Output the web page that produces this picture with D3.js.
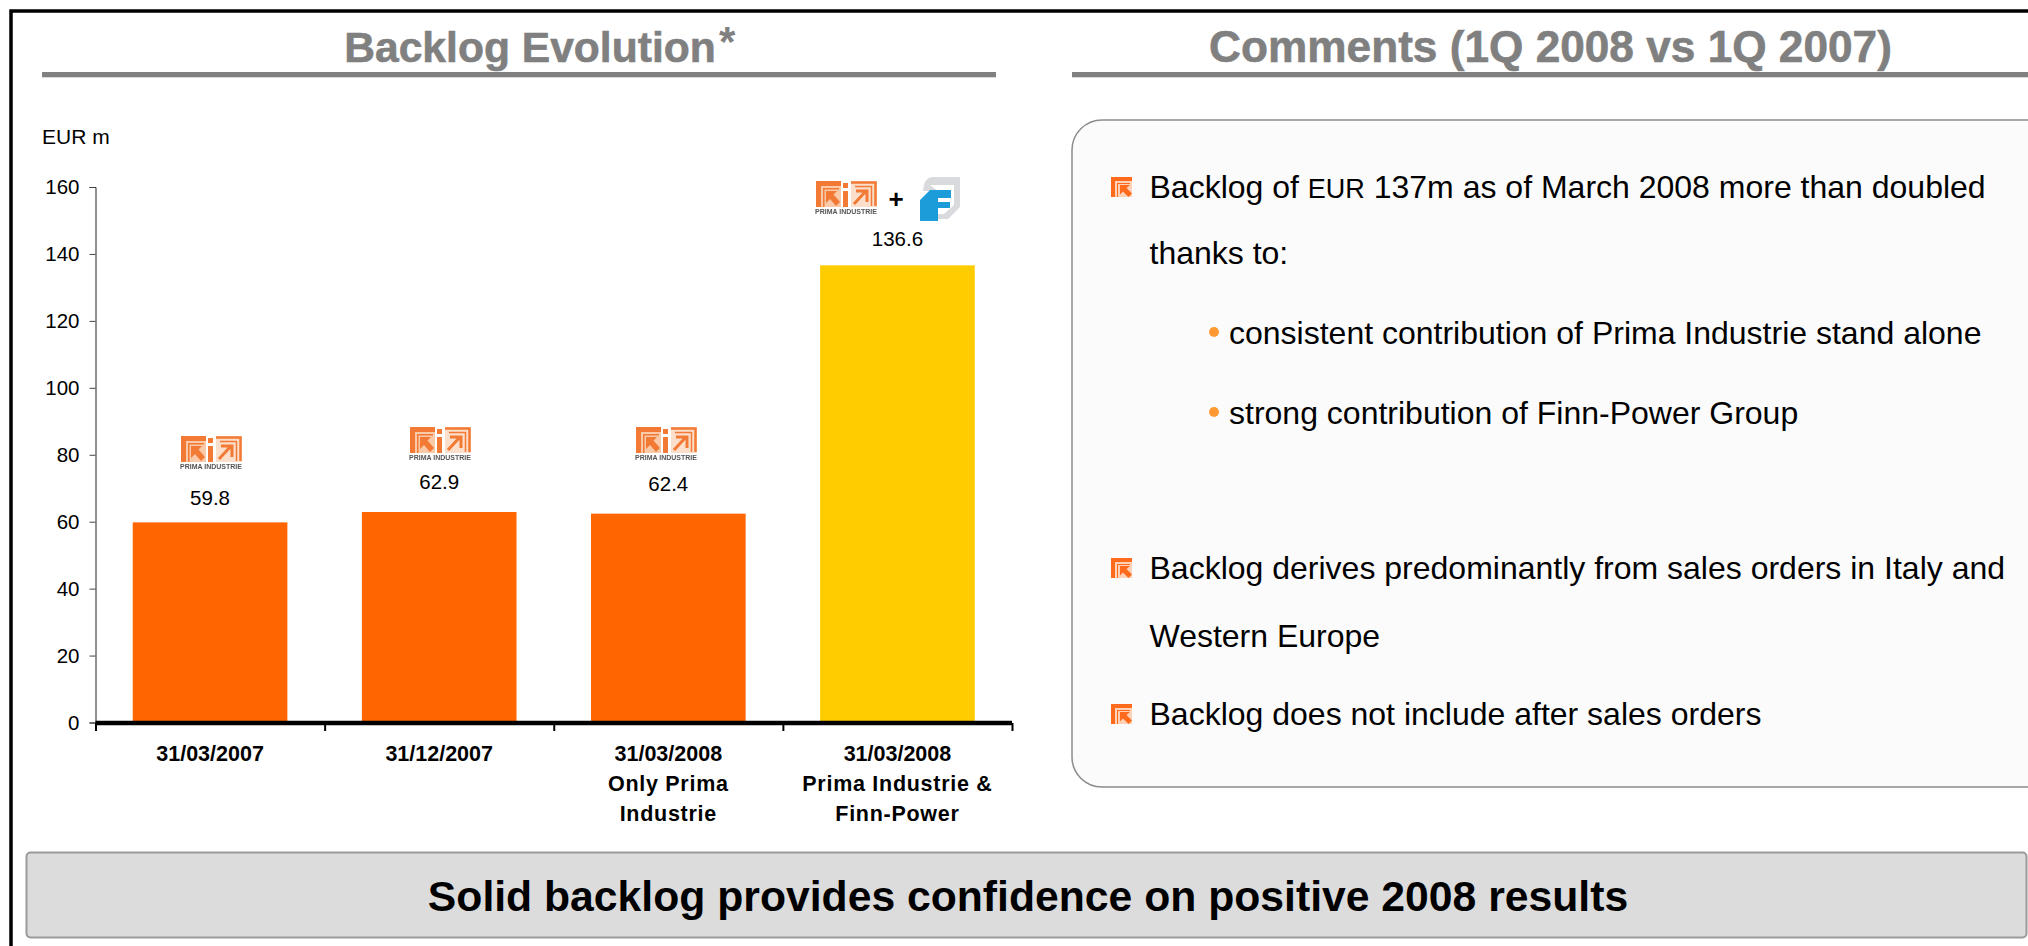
<!DOCTYPE html>
<html><head><meta charset="utf-8">
<script src="https://cdn.jsdelivr.net/npm/d3@7/dist/d3.min.js"></script>
<style>html,body{margin:0;padding:0;background:#fff;overflow:hidden}svg{display:block}text{font-family:"Liberation Sans",Arial,sans-serif}</style>
</head><body><svg id="c" width="2028" height="946"></svg>
<script>
const categories=[["31/03/2007"],["31/12/2007"],["31/03/2008","Only Prima","Industrie"],["31/03/2008","Prima Industrie &","Finn-Power"]];
const values=[59.8,62.9,62.4,136.6];
const valueLabels=["59.8","62.9","62.4","136.6"];
const yTicks=[0,20,40,60,80,100,120,140,160];
const barColors=["#ff6600","#ff6600","#ff6600","#ffcc00"];
const labelGaps=[24.5,30,30,27];
const comments=[
 {kind:"main",parts:[["Backlog of ",0],["EUR",1],[" 137m as of March 2008 more than doubled",0]]},
 {kind:"cont",parts:[["thanks to:",0]]},
 {kind:"sub",parts:[["consistent contribution of Prima Industrie stand alone",0]]},
 {kind:"sub",parts:[["strong contribution of Finn-Power Group",0]]},
 {kind:"main",parts:[["Backlog derives predominantly from sales orders in Italy and",0]]},
 {kind:"cont",parts:[["Western Europe",0]]},
 {kind:"main",parts:[["Backlog does not include after sales orders",0]]}];
const commentBaselines=[198,264,344,424,579,647,725];

const svg=d3.select("#c");
const defs=svg.append("defs");
defs.append("filter").attr("id","soft").attr("x","-10%").attr("y","-10%").attr("width","120%").attr("height","120%")
 .append("feGaussianBlur").attr("stdDeviation",0.6);

// frame
svg.append("rect").attr("x",11).attr("y",11).attr("width",2040).attr("height",960).attr("fill","none").attr("stroke","#000").attr("stroke-width",3.5);

// titles
function title(cx,t,x0,x1,fs){
 svg.append("text").attr("x",cx).attr("y",62).attr("text-anchor","middle").attr("font-size",fs).attr("font-weight","bold").attr("fill","#808080").attr("stroke","#808080").attr("stroke-width",0.6).text(t);
 svg.append("rect").attr("x",x0).attr("y",72).attr("width",x1-x0).attr("height",5).attr("fill","#808080");
 svg.append("rect").attr("x",x0).attr("y",77).attr("width",x1-x0).attr("height",1).attr("fill","#d8d8d8");
}
title(530,"Backlog Evolution",42,996,42.6);
title(1550.5,"Comments (1Q 2008 vs 1Q 2007)",1072,2028,44.2);
svg.append("text").attr("x",719).attr("y",56).attr("font-size",42).attr("font-weight","bold").attr("fill","#808080").text("*");

svg.append("text").attr("x",42).attr("y",144).attr("font-size",21).attr("fill","#000").text("EUR m");

// scales
const y=d3.scaleLinear().domain([0,160]).range([722.5,187]);
const x=d3.scaleBand().domain(d3.range(values.length)).range([95.5,1012]).paddingInner(0.325).paddingOuter(0.1625);
const edge=d3.scaleLinear().domain([0,values.length]).range([95.5,1012]);

// bars
svg.append("g").selectAll("rect").data(values).join("rect")
 .attr("x",(d,i)=>x(i)).attr("width",x.bandwidth()).attr("y",d=>y(d)).attr("height",d=>y(0)-y(d)).attr("fill",(d,i)=>barColors[i]);

// y axis
const ya=svg.append("g").attr("transform","translate(95.5,0)").call(d3.axisLeft(y).tickValues(yTicks).tickSize(6).tickPadding(10).tickFormat(d3.format("d")));
ya.selectAll("text").attr("font-size",20.5).attr("fill","#000").style("font-family",'"Liberation Sans"');
ya.select(".domain").attr("stroke","#222").attr("stroke-width",1);
ya.selectAll(".tick line").attr("stroke","#444");

// x axis
const xa=svg.append("g").attr("transform","translate(0,723)").call(d3.axisBottom(edge).ticks(values.length).tickSize(8).tickFormat(""));
xa.select(".domain").attr("stroke","#000").attr("stroke-width",4.5).attr("d","M95.5,0H1012");
xa.selectAll(".tick line").attr("stroke","#000").attr("stroke-width",2);

// x labels
const xl=svg.append("g").selectAll("text").data(categories).join("text")
 .attr("text-anchor","middle").attr("font-size",21.5).attr("font-weight","bold").attr("fill","#000");
xl.selectAll("tspan").data((d,i)=>d.map(s=>({s,i}))).join("tspan")
 .attr("x",d=>x(d.i)+x.bandwidth()/2).attr("y",(d,j)=>761+j*30)
 .attr("letter-spacing",(d,j)=>j?0.72:0).text(d=>d.s);

// value labels
svg.append("g").selectAll("text").data(values).join("text")
 .attr("x",(d,i)=>x(i)+x.bandwidth()/2).attr("y",(d,i)=>y(d)-labelGaps[i]+7.5)
 .attr("text-anchor","middle").attr("font-size",20.5).attr("fill","#000").text((d,i)=>valueLabels[i]);

// logos
function prima(px,py){
 const g=svg.append("g").attr("transform",`translate(${px},${py})`).attr("filter","url(#soft)");
 const o="#f27a35", p="#f9c9a8";
 g.append("rect").attr("x",1).attr("width",25).attr("height",26).attr("fill",p);
 g.append("path").attr("d","M1,0H26V5H6V26H1Z").attr("fill",o);
 g.append("path").attr("d","M8,7H24V8.5H9.5V26H8Z").attr("fill",o);
 g.append("path").attr("d","M11,10H22L18.5,13.5L25,21L21,25L15,18L11,22Z").attr("fill",o);
 g.append("rect").attr("x",28).attr("y",2).attr("width",5).attr("height",5).attr("fill",o);
 g.append("rect").attr("x",28).attr("y",10).attr("width",5).attr("height",16).attr("fill",o);
 g.append("rect").attr("x",36).attr("width",26).attr("height",26).attr("fill",p).attr("opacity",.6);
 g.append("path").attr("d","M36,1.5H60.5V25").attr("fill","none").attr("stroke",o).attr("stroke-width",2.5);
 g.append("path").attr("d","M40,5.5H56.5V25").attr("fill","none").attr("stroke",o).attr("stroke-width",1.5);
 g.append("path").attr("d","M39,23L51,10M41,10H52V21").attr("fill","none").attr("stroke",o).attr("stroke-width",3);
 g.append("text").attr("x",0).attr("y",33).attr("font-size",6.4).attr("font-weight","bold").attr("fill","#555").attr("textLength",62).attr("lengthAdjust","spacingAndGlyphs").text("PRIMA INDUSTRIE");
}
[[180,436],[409,427],[635,427],[815,181]].forEach(p=>prima(p[0],p[1]));
svg.append("text").attr("x",896).attr("y",208).attr("text-anchor","middle").attr("font-size",26).attr("font-weight","bold").attr("fill","#000").text("+");
const f=svg.append("g").attr("transform","translate(919,177)").attr("filter","url(#soft)");
f.append("path").attr("d","M4,14Q5,0 14,0H41V30L29,42H12V14Z").attr("fill","#d8dadd");
f.append("path").attr("d","M11,8H35V28L25,37H19V14Z").attr("fill","#fff");
f.append("path").attr("d","M1,23L11,13H32V21H19V25H31V31H19V44H1Z").attr("fill","#1b9cd8");

// comment box
svg.append("rect").attr("x",1072).attr("y",120).attr("width",990).attr("height",667).attr("rx",30).attr("ry",30).attr("fill","#fbfbfb").attr("stroke","#8c8c8c").attr("stroke-width",1.5);

// comment lines
const tl=svg.append("g").selectAll("text").data(comments).join("text")
 .attr("x",d=>d.kind==="sub"?1229:1149.5).attr("y",(d,i)=>commentBaselines[i]).attr("font-size",32).attr("fill","#000");
tl.selectAll("tspan").data(d=>d.parts).join("tspan").attr("font-size",d=>d[1]?27:null).text(d=>d[0]);
comments.forEach((d,i)=>{
 const b=commentBaselines[i];
 if(d.kind==="main"){
  const g=svg.append("g").attr("transform",`translate(1111,${b-21})`).attr("filter","url(#soft)");
  const o="#ff6a1f";
  g.append("rect").attr("x",3).attr("y",3).attr("width",18).attr("height",17).attr("fill","#ffd2b8");
  g.append("path").attr("d","M0,0H21V4H4V20H0Z").attr("fill",o);
  g.append("path").attr("d","M6,6H19V7H7V20H6Z").attr("fill",o);
  g.append("path").attr("d","M9,8H19L15.5,11L21,16.5L17.5,20L12,14.5L9,17.5Z").attr("fill",o);
 } else if(d.kind==="sub"){
  svg.append("ellipse").attr("cx",1214).attr("cy",b-12).attr("rx",5).attr("ry",5).attr("fill","#ff9933");
 }
});

// conclusion
svg.append("rect").attr("x",26.5).attr("y",852.5).attr("width",2000).attr("height",85).attr("rx",4).attr("fill","#dcdcdc").attr("stroke","#9a9a9a").attr("stroke-width",2);
svg.append("text").attr("x",1028).attr("y",911).attr("text-anchor","middle").attr("font-size",42.7).attr("font-weight","bold").attr("fill","#000").text("Solid backlog provides confidence on positive 2008 results");
</script></body></html>
